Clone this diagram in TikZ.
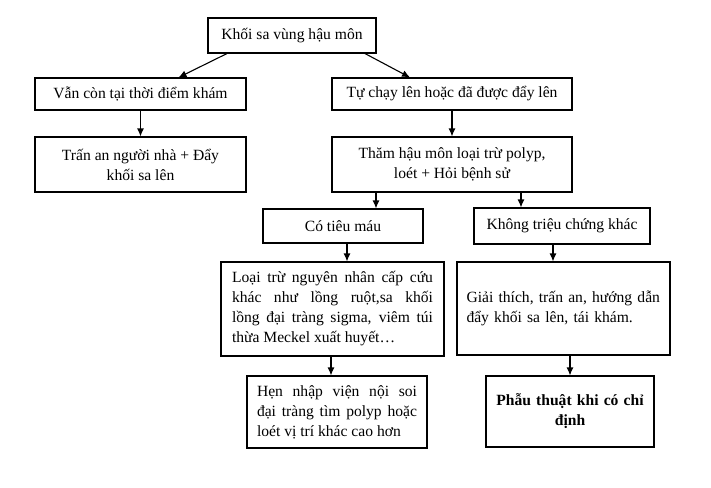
\documentclass[tikz,border=0pt]{standalone}
\usepackage{fontspec}
\setmainfont{Liberation Serif}
\usetikzlibrary{arrows.meta, calc}
\tikzset{>={Latex[width=7pt,length=8pt]}}
\tikzset{box/.style={draw=black, line width=1.1pt, inner sep=0pt, font=\fontsize{15.6}{20}\selectfont}}

\begin{document}
\begin{tikzpicture}[x=1pt, y=-1pt, line width=1.1pt]
    \useasboundingbox (0,0) rectangle (711,487);
    \node[box, minimum width=168pt, minimum height=35pt] (Khoi) at (292,35.5) {Khối sa vùng hậu môn};
    \node[box, minimum width=211pt, minimum height=32pt] (Con) at (140.5,94) {Vẫn còn tại thời điểm khám};
    \node[box, minimum width=240pt, minimum height=32pt] (Len) at (452,94) {Tự chạy lên hoặc đã được đẩy lên};
    \node[box, minimum width=211pt, minimum height=55pt, align=center] (TranAn) at (140.5,164.5) {Trấn an người nhà + Đẩy\\khối sa lên};
    \node[box, minimum width=240pt, minimum height=55pt, align=center] (Tham) at (452,164.5) {Thăm hậu môn loại trừ polyp,\\loét + Hỏi bệnh sử};
    \node[box, minimum width=160pt, minimum height=34pt] (TieuMau) at (343,226) {Có tiêu máu};
    \node[box, minimum width=176pt, minimum height=36pt] (Khong) at (562,226) {Không triệu chứng khác};
    \node[box, minimum width=223pt, minimum height=94pt, text width=201pt, align=justify] (LoaiTru) at (332.5,309)
        {Loại trừ nguyên nhân cấp cứu\linebreak khác như lồng ruột,sa khối\linebreak lồng đại tràng sigma, viêm túi\linebreak thừa Meckel xuất huyết…};
    \node[box, minimum width=213pt, minimum height=93pt, text width=194pt, align=left] (GiaiThich) at (563.5,308.5)
        {Giải thích, trấn an, hướng dẫn\\đẩy khối sa lên, tái khám.};
    \node[box, minimum width=180pt, minimum height=72pt, text width=160pt, align=justify] (Hen) at (337,412)
        {Hẹn nhập viện nội soi\linebreak đại tràng tìm polyp hoặc\linebreak loét vị trí khác cao hơn};
    \node[box, minimum width=168pt, minimum height=71pt, text width=150pt, align=center] (PhauThuat) at (570,411.5)
        {\bfseries Phẫu thuật khi có chỉ\\định};
    \draw[->] ([xshift=-65pt]Khoi.south) -- ([xshift=38pt]Con.north);
    \draw[->] ([xshift=73pt]Khoi.south) -- ([xshift=-42pt]Len.north);
    \draw[->] (Con) -- (TranAn);
    \draw[->] (Len) -- (Tham);
    \draw[->] ([xshift=-76pt]Tham.south) -- ([xshift=-76pt]Tham.south |- TieuMau.north);
    \draw[->] ([xshift=69pt]Tham.south) -- ([xshift=69pt]Tham.south |- Khong.north);
    \draw[->] ([xshift=4pt]TieuMau.south) -- ([xshift=4pt]TieuMau.south |- LoaiTru.north);
    \draw[->] ([xshift=-9pt]Khong.south) -- ([xshift=-9pt]Khong.south |- GiaiThich.north);
    \draw[->] ([xshift=-1.5pt]LoaiTru.south) -- ([xshift=-1.5pt]LoaiTru.south |- Hen.north);
    \draw[->] (GiaiThich.south -| PhauThuat.north) -- (PhauThuat.north);
\end{tikzpicture}
\end{document}
